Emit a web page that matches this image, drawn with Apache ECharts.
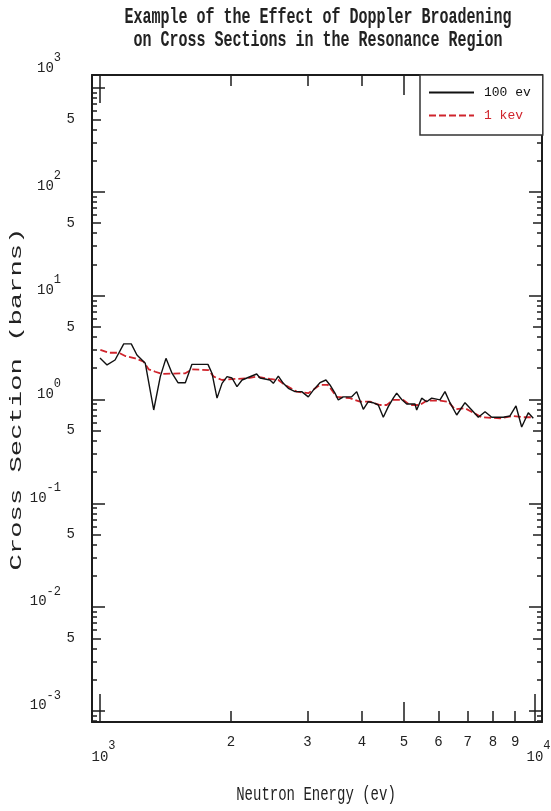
<!DOCTYPE html>
<html><head><meta charset="utf-8">
<script src="https://cdn.jsdelivr.net/npm/echarts@6/dist/echarts.min.js"></script>
<style>html,body{margin:0;padding:0;background:#fff}#c{width:551px;height:811px}</style>
</head><body><div id="c"></div>
<script>
// ---- data ----
const seriesNames = ['100 ev', '1 kev'];
const energy100 = [1000,1038,1083,1134,1180,1216,1271,1329,1376,1418,1464,1511,1571,1627,1771,1809,1858,1908,1959,2011,2065,2121,2292,2333,2459,2503,2570,2639,2710,2808,2909,3012,3093,3204,3307,3378,3469,3530,3625,3790,3892,4030,4138,4242,4363,4480,4600,4723,4809,4938,5071,5298,5346,5489,5636,5788,6048,6210,6377,6607,6904,7154,7409,7677,7954,8455,8760,9043,9320,9652,9910];
const sigma100 = [2.51,2.15,2.40,3.43,3.43,2.68,2.23,0.792,1.66,2.49,1.79,1.45,1.45,2.18,2.18,1.79,1.03,1.43,1.66,1.61,1.33,1.54,1.76,1.61,1.54,1.43,1.68,1.43,1.28,1.19,1.19,1.06,1.23,1.45,1.54,1.38,1.15,0.99,1.06,1.06,1.19,0.805,0.952,0.931,0.885,0.674,0.853,1.03,1.15,1.00,0.905,0.905,0.792,1.03,0.952,1.03,0.99,1.19,0.931,0.709,0.931,0.792,0.674,0.763,0.674,0.674,0.694,0.866,0.543,0.746,0.659];
const energy1k = [1002,1047,1104,1143,1205,1260,1294,1340,1388,1571,1627,1777,1826,1908,2011,2178,2292,2459,2570,2663,2833,3012,3204,3343,3501,3756,3961,4176,4402,4562,4723,4980,5160,5441,5636,6048,6319,6548,6904,7214,7544,8309,8915,9399,9910];
const sigma1k = [3.00,2.82,2.82,2.62,2.49,2.31,1.95,1.85,1.76,1.79,1.95,1.92,1.66,1.54,1.57,1.60,1.66,1.58,1.54,1.38,1.19,1.15,1.38,1.38,1.06,1.03,0.952,0.952,0.885,0.885,0.99,0.99,0.885,0.885,0.974,0.974,0.952,0.805,0.823,0.746,0.674,0.659,0.694,0.674,0.674];

// ---- axes / ticks ----
const xRange = [958.6, 10378];
const yRange = [0.000783, 1334];
const xDecadeTicks = [1000, 10000];
const xDigitTicks = [2000, 3000, 4000, 6000, 7000, 8000, 9000];
const xFiveTicks = [5000];
const yDecadeTicks = [0.001, 0.01, 0.1, 1, 10, 100, 1000];
const yFiveTicks = [0.005, 0.05, 0.5, 5, 50, 500];
const yMinorTicks = [0.0008,0.0009,
  0.002,0.003,0.004,0.006,0.007,0.008,0.009,
  0.02,0.03,0.04,0.06,0.07,0.08,0.09,
  0.2,0.3,0.4,0.6,0.7,0.8,0.9,
  2,3,4,6,7,8,9,
  20,30,40,60,70,80,90,
  200,300,400,600,700,800,900];
const titleLines = ['Example of the Effect of Doppler Broadening', 'on Cross Sections in the Resonance Region'];
const xName = 'Neutron Energy (ev)';
const yName = 'Cross Section (barns)';

// ---- styling ----
const FONT = '"Liberation Mono", "Courier New", monospace';
const AX = '#1c1c1c';
const RED = '#d0242c';
const TXT = '#222';
function decExp(v) { return Math.round(Math.log10(v)); }

const xDecRich = {
  b: {fontFamily: FONT, fontSize: 14, lineHeight: 34, color: TXT},
  s: {fontFamily: FONT, fontSize: 12, lineHeight: 14, verticalAlign: 'top', color: TXT}
};
const yDecRich = {
  b: {fontFamily: FONT, fontSize: 14, lineHeight: 32, color: TXT},
  s: {fontFamily: FONT, fontSize: 12, lineHeight: 14, verticalAlign: 'top', color: TXT},
  h: {fontFamily: FONT, fontSize: 1, lineHeight: 29, color: TXT}
};

function mkX(pos, ticks, len, label, line) {
  return {
    type: 'log', logBase: 10, position: pos, min: xRange[0], max: xRange[1],
    axisLine: {show: !!line, onZero: false, lineStyle: {color: AX, width: 2}},
    axisTick: {show: true, inside: true, length: len, customValues: ticks, lineStyle: {color: AX, width: 1.5}},
    axisLabel: label ? Object.assign({show: true, customValues: ticks, color: TXT, fontFamily: FONT, fontSize: 14}, label) : {show: false},
    splitLine: {show: false}, minorTick: {show: false}
  };
}
function mkY(pos, ticks, len, label, line) {
  return {
    type: 'log', logBase: 10, position: pos, min: yRange[0], max: yRange[1],
    axisLine: {show: !!line, onZero: false, lineStyle: {color: AX, width: 2}},
    axisTick: {show: true, inside: true, length: len, customValues: ticks, lineStyle: {color: AX, width: 1.5}},
    axisLabel: label ? Object.assign({show: true, customValues: ticks, color: TXT, fontFamily: FONT, fontSize: 14}, label) : {show: false},
    splitLine: {show: false}, minorTick: {show: false}
  };
}

const chart = echarts.init(document.getElementById('c'), null, {renderer: 'canvas'});
chart.setOption({
  animation: false,
  backgroundColor: '#fff',
  grid: {left: 92, right: 9, top: 75, bottom: 89, containLabel: false, outerBoundsMode: 'none'},
  xAxis: [
    mkX('bottom', xDecadeTicks, 28, {margin: 18, padding: [0, 0, 0, 7], formatter: v => '{b|10}{s|' + decExp(v) + '}', rich: xDecRich}, true),
    mkX('bottom', xDigitTicks, 11, {margin: 12, lineHeight: 16, formatter: v => String(Math.round(v / 1000))}),
    mkX('bottom', xFiveTicks, 20, {margin: 12, lineHeight: 16, formatter: v => String(Math.round(v / 1000))}),
    mkX('top', xDecadeTicks, 28, null, true),
    mkX('top', xDigitTicks, 11, null),
    mkX('top', xFiveTicks, 20, null)
  ],
  yAxis: [
    mkY('left', yDecadeTicks, 13, {margin: 31, padding: [0, 0, 11, 0], rich: yDecRich,
      formatter: v => { const e = decExp(v); return '{b|10}{s|' + e + '}' + (e === 3 ? '\n{h| }' : ''); }}, true),
    mkY('left', yFiveTicks, 9, {margin: 17, padding: [0, 0, 8, 0], formatter: () => '5'}),
    mkY('left', yMinorTicks, 5, null),
    mkY('right', yDecadeTicks, 13, null, true),
    mkY('right', yFiveTicks, 9, null),
    mkY('right', yMinorTicks, 5, null)
  ],
  legend: {
    left: 420, top: 75, orient: 'vertical',
    data: [
      {name: seriesNames[0], textStyle: {color: '#111'}},
      {name: seriesNames[1], textStyle: {color: RED}}
    ],
    itemWidth: 45, itemHeight: 14, itemGap: 10,
    padding: [11, 12, 13, 8],
    itemStyle: {opacity: 0, borderWidth: 0},
    borderColor: '#333', borderWidth: 1.5, backgroundColor: '#fff',
    textStyle: {fontFamily: FONT, fontSize: 13, padding: [0, 0, 0, 5]}
  },
  graphic: [
    {type: 'text', x: 318, y: 18, scaleY: 1.45, style: {text: titleLines[0], fontFamily: FONT, fontSize: 15, fontWeight: 'bold', fill: TXT, align: 'center', verticalAlign: 'middle'}},
    {type: 'text', x: 318, y: 41, scaleY: 1.45, style: {text: titleLines[1], fontFamily: FONT, fontSize: 15, fontWeight: 'bold', fill: TXT, align: 'center', verticalAlign: 'middle'}},
    {type: 'text', x: 316, y: 795, scaleY: 1.45, style: {text: xName, fontFamily: FONT, fontSize: 14, fill: TXT, align: 'center', verticalAlign: 'middle'}},
    {type: 'text', x: 16, y: 399, rotation: Math.PI / 2, scaleX: 1.6, style: {text: yName, fontFamily: FONT, fontSize: 17, fill: TXT, align: 'center', verticalAlign: 'middle'}}
  ],
  series: [
    {
      name: seriesNames[1], type: 'line', xAxisIndex: 0, yAxisIndex: 0, symbol: 'none', showSymbol: false, z: 2,
      lineStyle: {color: RED, width: 1.8, type: [7, 3]}, itemStyle: {color: RED},
      data: energy1k.map((e, i) => [e, sigma1k[i]])
    },
    {
      name: seriesNames[0], type: 'line', xAxisIndex: 0, yAxisIndex: 0, symbol: 'none', showSymbol: false, z: 3,
      lineStyle: {color: '#111', width: 1.4}, itemStyle: {color: '#111'},
      data: energy100.map((e, i) => [e, sigma100[i]])
    }
  ]
});
</script>
</body></html>
